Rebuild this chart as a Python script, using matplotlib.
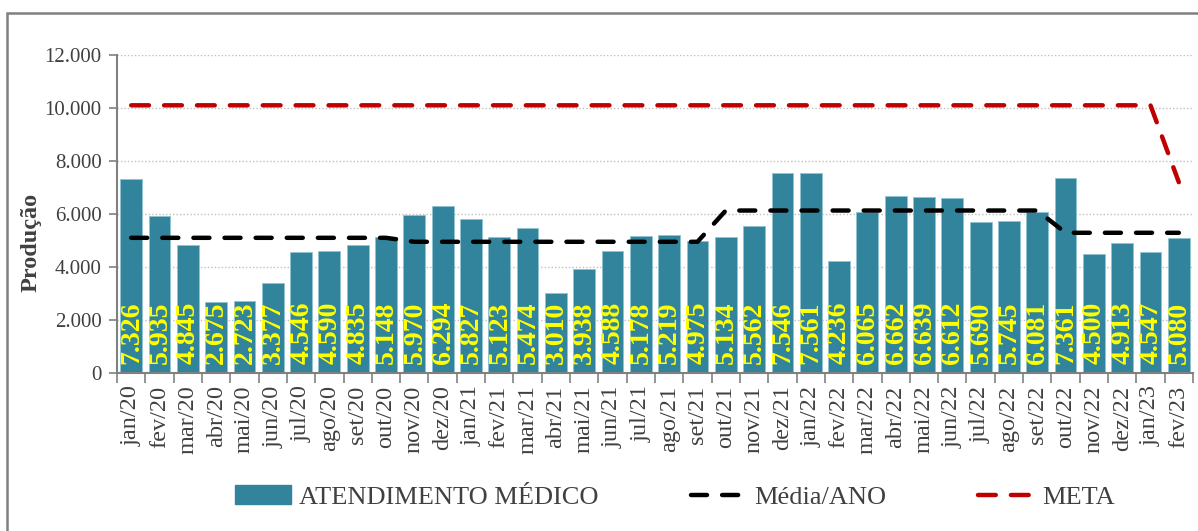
import numpy as np
import matplotlib
matplotlib.use("Agg")
import matplotlib.pyplot as plt
from matplotlib.ticker import FuncFormatter
from matplotlib.patches import Rectangle
from matplotlib.lines import Line2D
from matplotlib.patches import Patch

# dados
meses = ["jan/20", "fev/20", "mar/20", "abr/20", "mai/20", "jun/20", "jul/20", "ago/20",
         "set/20", "out/20", "nov/20", "dez/20",
         "jan/21", "fev/21", "mar/21", "abr/21", "mai/21", "jun/21", "jul/21", "ago/21",
         "set/21", "out/21", "nov/21", "dez/21",
         "jan/22", "fev/22", "mar/22", "abr/22", "mai/22", "jun/22", "jul/22", "ago/22",
         "set/22", "out/22", "nov/22", "dez/22",
         "jan/23", "fev/23"]

atendimento = [7326, 5935, 4845, 2675, 2723, 3377, 4546, 4590, 4835, 5148, 5970, 6294,
               5827, 5123, 5474, 3010, 3938, 4588, 5178, 5219, 4975, 5134, 5562, 7546,
               7561, 4236, 6065, 6662, 6639, 6612, 5690, 5745, 6081, 7361, 4500, 4913,
               4547, 5080]

media_ano = [5100] * 10 + [4950] * 11 + [6130] * 12 + [5290] * 5

meta = [10100] * 37 + [7200]

cor_barra = "#31849B"
cor_texto = "#404040"
fonte = "Liberation Serif"

plt.rcParams["font.family"] = fonte

fig = plt.figure(figsize=(11.98, 5.31), dpi=100)
ax = fig.add_axes([0.0977, 0.2976, 0.8981, 0.5989])

x = np.arange(len(meses))
barras = ax.bar(x, atendimento, width=0.77, color=cor_barra, edgecolor="#8fc3d0",
                linewidth=0.6, zorder=2)

for xi, v in zip(x, atendimento):
    rot = f"{v:,}".replace(",", ".")
    ax.text(xi + 0.02, 330, rot, rotation=90, ha="center", va="bottom", color="#FFFF00",
            fontsize=20, fontweight="bold", zorder=4)

lm, = ax.plot(x, media_ano, color="black", lw=3.2, dash_capstyle="round", zorder=3)
lm.set_dashes((3.6, 3.4))
lr, = ax.plot(x, meta, color="#C00000", lw=3.2, dash_capstyle="round", zorder=3)
lr.set_dashes((4.0, 3.4))

ax.set_xlim(-0.5, len(meses) - 0.5)
ax.set_ylim(0, 12000)
ax.set_yticks(np.arange(0, 12001, 2000))
ax.yaxis.set_major_formatter(FuncFormatter(lambda v, p: f"{int(v):,}".replace(",", ".")))
ax.grid(axis="y", color="#BFBFBF", linestyle=(0, (1, 1.5)), linewidth=1.0, zorder=0)

ax.set_xticks(x)
ax.set_xticklabels(meses, rotation=90, fontsize=17.5, color=cor_texto)
ax.set_xticks(np.arange(-0.5, len(meses), 1), minor=True)
ax.tick_params(axis="x", which="major", length=0, pad=9)
ax.tick_params(axis="x", which="minor", length=7, color="#808080", width=1.2)
ax.tick_params(axis="y", labelsize=15, labelcolor=cor_texto, length=6,
               color="#808080", width=1.2, pad=5)

for s in ["top", "right"]:
    ax.spines[s].set_visible(False)
for s in ["left", "bottom"]:
    ax.spines[s].set_color("#808080")
    ax.spines[s].set_linewidth(1.5)

ax.set_ylabel("Produção", fontsize=17.5, fontweight="bold", color=cor_texto)
ax.yaxis.set_label_coords(-0.07, 0.41)

# legenda
h_bar = Patch(facecolor=cor_barra, edgecolor=cor_barra)
h_med = Line2D([], [], color="black", lw=3.2, dash_capstyle="round")
h_med.set_dashes((3.6, 3.4))
h_meta = Line2D([], [], color="#C00000", lw=3.2, dash_capstyle="round")
h_meta.set_dashes((4.0, 3.4))
leg = fig.legend([h_bar, h_med, h_meta], ["ATENDIMENTO MÉDICO", "Média/ANO", "META"],
                 loc="center", bbox_to_anchor=(0.5634, 0.064), ncol=3, frameon=False,
                 fontsize=19, handlelength=2.1, handleheight=0.75, columnspacing=3.5,
                 handletextpad=0.3)
for t in leg.get_texts():
    t.set_color(cor_texto)

# moldura
fig.patches.append(Rectangle((7 / 1198, -0.05), 1.2, 1 - 13 / 531 + 0.05,
                             transform=fig.transFigure, fill=False,
                             edgecolor="#808080", linewidth=1.8))

fig.savefig("out.png", dpi=100)
